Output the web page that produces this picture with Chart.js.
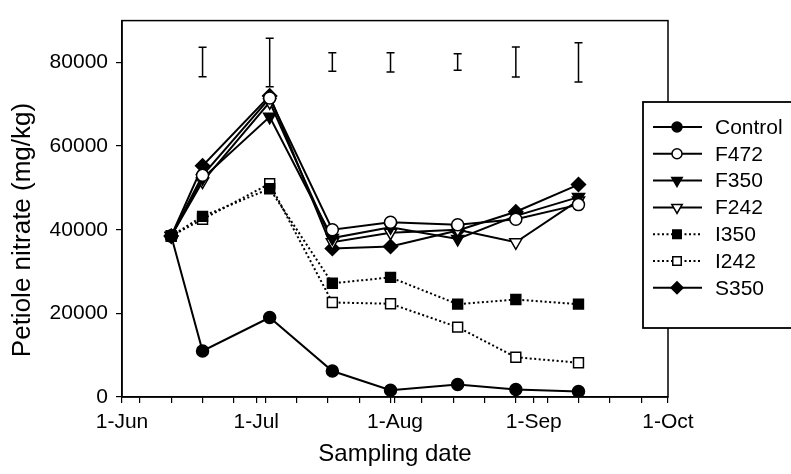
<!DOCTYPE html>
<html>
<head>
<meta charset="utf-8">
<script src="https://cdn.jsdelivr.net/npm/chart.js"></script>
<style>
  body { margin: 0; background: #fff; }
  #wrap { width: 791px; height: 474px; }
</style>
</head>
<body>
<div id="wrap"><canvas id="chart" width="791" height="474"></canvas></div>
<script>
// days counted from 1-Jun
const monthTickDays = [0, 30, 61, 92, 122];
const monthTickLabels = ['1-Jun', '1-Jul', '1-Aug', '1-Sep', '1-Oct'];
const weekTickDays = [4, 11, 18, 25, 32, 39, 46, 53, 60, 67, 74, 81, 88, 95, 102, 109, 116];
const yTickValues = [0, 20000, 40000, 60000, 80000];
const yTitle = 'Petiole nitrate (mg/kg)';

const sampleDays = [11, 18, 33, 47, 60, 75, 88, 102];

const control = [38500, 11000, 19000, 6200, 1600, 3000, 1800, 1300];
const f472 = [38500, 53000, 71500, 40000, 41800, 41200, 42500, 46000];
const f350 = [38500, 52300, 67000, 38000, 40600, 37800, 43300, 47800];
const f242 = [38500, 51500, 70500, 37000, 39300, 40000, 37000, 47000];
const i350 = [38500, 43200, 49800, 27200, 28600, 22200, 23300, 22200];
const i242 = [38500, 42500, 51000, 22600, 22300, 16700, 9500, 8200];
const s350 = [38500, 55300, 72000, 35500, 36000, 39800, 44300, 50800];

// LSD bars drawn at the top
const errDays = [18, 33, 47, 60, 75, 88, 102];
const errHigh = [83600, 85800, 82300, 82300, 82100, 83700, 84700];
const errLow = [76600, 74200, 77900, 77700, 78100, 76500, 75300];

const FONT = '"Liberation Sans", Arial, sans-serif';
const toPts = arr => arr.map((v, i) => ({ x: sampleDays[i], y: v }));

function series(label, data, style, fill, dotted, rot) {
  return {
    label: label,
    data: toPts(data),
    borderColor: '#000',
    borderWidth: 2,
    borderDash: dotted ? [2, 2.5] : [],
    pointStyle: style,
    pointRotation: rot || 0,
    pointRadius: style === 'circle' ? 6 : 7,
    pointBackgroundColor: fill,
    pointBorderColor: '#000',
    pointBorderWidth: 1.5,
    tension: 0
  };
}

Chart.defaults.font.family = FONT;
Chart.defaults.color = '#000';

const frame = {
  id: 'frame',
  afterDatasetsDraw(chart) {
    const { ctx, chartArea: a, scales } = chart;
    ctx.save();
    ctx.strokeStyle = '#000';
    ctx.lineWidth = 1.5;
    ctx.strokeRect(a.left, a.top, a.right - a.left, a.bottom - a.top);
    // error bars
    errDays.forEach((d, i) => {
      const x = scales.x.getPixelForValue(d);
      const y1 = scales.y.getPixelForValue(errHigh[i]);
      const y2 = scales.y.getPixelForValue(errLow[i]);
      ctx.beginPath();
      ctx.moveTo(x, y1); ctx.lineTo(x, y2);
      ctx.moveTo(x - 4, y1); ctx.lineTo(x + 4, y1);
      ctx.moveTo(x - 4, y2); ctx.lineTo(x + 4, y2);
      ctx.stroke();
    });
    // y axis title
    ctx.translate(23, 230);
    ctx.rotate(-Math.PI / 2);
    ctx.fillStyle = '#000';
    ctx.font = '26px ' + FONT;
    ctx.textAlign = 'center';
    ctx.textBaseline = 'middle';
    ctx.fillText(yTitle, 0, 0);
    ctx.restore();
  },
  afterDraw(chart) {
    const ctx = chart.ctx;
    ctx.save();
    ctx.fillStyle = '#fff';
    ctx.fillRect(643, 102, 160, 226);
    ctx.strokeStyle = '#000';
    ctx.lineWidth = 1.8;
    ctx.strokeRect(643, 102, 160, 226);
    chart.data.datasets.forEach((ds, i) => {
      const y = 127 + i * 26.8;
      ctx.strokeStyle = '#000';
      ctx.lineWidth = ds.borderWidth;
      ctx.setLineDash(ds.borderDash);
      ctx.beginPath();
      ctx.moveTo(653, y); ctx.lineTo(702, y);
      ctx.stroke();
      ctx.setLineDash([]);
      ctx.fillStyle = ds.pointBackgroundColor;
      ctx.lineWidth = ds.pointBorderWidth;
      Chart.helpers.drawPoint(ctx, {
        pointStyle: ds.pointStyle,
        radius: ds.pointStyle === 'circle' ? 5 : 6,
        rotation: ds.pointRotation,
        borderWidth: ds.pointBorderWidth
      }, 677, y);
      ctx.fillStyle = '#000';
      ctx.font = '21px ' + FONT;
      ctx.textAlign = 'left';
      ctx.textBaseline = 'middle';
      ctx.fillText(ds.label, 715, y + 1);
    });
    ctx.restore();
  }
};

new Chart(document.getElementById('chart'), {
  type: 'line',
  data: {
    datasets: [
      series('Control', control, 'circle', '#000', false),
      series('F472', f472, 'circle', '#fff', false),
      series('F350', f350, 'triangle', '#000', false, 180),
      series('F242', f242, 'triangle', '#fff', false, 180),
      series('I350', i350, 'rect', '#000', true),
      series('I242', i242, 'rect', '#fff', true),
      series('S350', s350, 'rectRot', '#000', false)
    ]
  },
  options: {
    responsive: false,
    animation: false,
    layout: { padding: { left: 0, top: 11, right: 123, bottom: 0 } },
    plugins: { legend: { display: false }, tooltip: { enabled: false } },
    scales: {
      x: {
        type: 'linear',
        min: 0,
        max: 122,
        afterFit: s => { s.height = 77; },
        afterBuildTicks: s => {
          s.ticks = monthTickDays.concat(weekTickDays).sort((a, b) => a - b).map(v => ({ value: v }));
        },
        ticks: {
          autoSkip: false,
          maxRotation: 0,
          padding: 7,
          font: { size: 21 },
          callback: v => {
            const i = monthTickDays.indexOf(v);
            return i >= 0 ? monthTickLabels[i] : '';
          }
        },
        grid: { drawOnChartArea: false, color: '#000', tickLength: 6, lineWidth: 1.2 },
        border: { color: '#000', width: 1.5 },
        title: { display: true, text: 'Sampling date', font: { size: 24 }, padding: { top: 0, bottom: 5 } }
      },
      y: {
        min: 0,
        max: 90000,
        afterFit: s => { s.width = 122; },
        afterBuildTicks: s => { s.ticks = yTickValues.map(v => ({ value: v })); },
        ticks: { padding: 8, font: { size: 21 }, callback: v => String(v) },
        grid: { drawOnChartArea: false, color: '#000', tickLength: 6, lineWidth: 1.2 },
        border: { color: '#000', width: 1.5 },
        title: { display: false }
      }
    }
  },
  plugins: [frame]
});
</script>
</body>
</html>
